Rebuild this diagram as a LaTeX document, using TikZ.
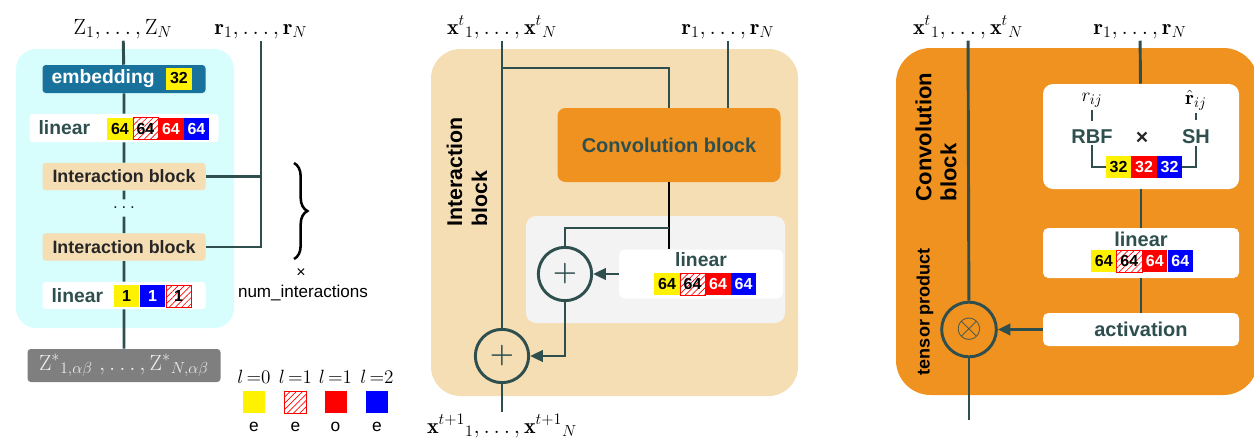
\documentclass[tikz,border=0pt]{standalone}
\usepackage{amsmath, amssymb}
\usepackage{fontspec}
\setsansfont{Liberation Sans}
\usepackage{tikz}
\usetikzlibrary{positioning, arrows.meta, patterns.meta, decorations.pathreplacing}
\definecolor{netslate}{HTML}{2F4F4F}
\definecolor{cyanbg}{HTML}{D8FDFD}
\definecolor{embblue}{HTML}{18729B}
\definecolor{ibwheat}{HTML}{F5DEB3}
\definecolor{convorange}{HTML}{F0921F}
\definecolor{greypanel}{HTML}{F3F3F3}
\definecolor{outgray}{HTML}{7F7F7F}

\begin{document}
\begin{tikzpicture}[x=0.75pt, y=-0.75pt,
  wire/.style={draw=netslate, line width=2.2pt},
  flow/.style={wire, -{Triangle[length=9.5pt, width=8.5pt]}},
  layerbox/.style={rectangle, rounded corners=2.5pt, inner sep=0pt},
  sflab/.style={font=\sffamily\bfseries\fontsize{14.5}{17}\selectfont, text=netslate, inner sep=1pt},
  mlab/.style={font=\fontsize{16.5}{18}\selectfont, inner sep=1.5pt, anchor=base},
  chip/.style={rectangle, inner sep=0pt, minimum width=19pt, minimum height=16.5pt,
    font=\sffamily\bfseries\fontsize{12}{12}\selectfont},
  chipY/.style={chip, fill=yellow, text=black},
  chipH/.style={chip, draw=red, line width=0.5pt, pattern color=red,
    pattern={Lines[angle=45, distance=3.3pt, line width=0.5pt]}, text=black},
  chipR/.style={chip, fill=red, text=white},
  chipB/.style={chip, fill=blue, text=white},
  addop/.style={circle, draw=netslate, line width=2.2pt, minimum size=40pt, inner sep=0pt,
    text=netslate, font=\fontsize{22}{22}\selectfont},
]
\useasboundingbox (0,0) rectangle (1254,439);

% panels
\fill[cyanbg, rounded corners=15pt] (16,49) rectangle (234,328);
\fill[ibwheat, rounded corners=22pt] (431,49) rectangle (798,396);
\fill[greypanel, rounded corners=7.5pt] (526,216) rectangle (785,323);
\fill[convorange, rounded corners=26pt] (896,48) rectangle (1258,395);

% ---- model
\node[mlab] (zin) at (123,34) {$\mathrm{Z}_1, \ldots, \mathrm{Z}_N$};
\node[mlab] (rin) at (261,34) {$\mathbf{r}_1, \ldots, \mathbf{r}_N$};

\node[layerbox, fill=embblue, minimum width=122.25pt, minimum height=21pt] (emb) at (124,79) {};
\node[sflab, text=white, anchor=west] (embtxt) at (50,79) {embedding};
\node[chipY] (emb32) at (179,78.5) {32};

\node[layerbox, fill=white, minimum width=141.75pt, minimum height=21pt] (lina) at (124,128) {};
\node[sflab, anchor=west] (linatxt) at (37,128) {linear};
\foreach \s/\t [count=\i from 0] in {chipY/64, chipH/64, chipR/64, chipB/64}
  \node[\s] (lina\i) at (120+25.5*\i,128.5) {\t};

\node[layerbox, fill=ibwheat, minimum width=122.25pt, minimum height=20.6pt,
  font=\sffamily\bfseries\fontsize{13.4}{15}\selectfont, text=black!85] (ib1) at (124,176.5) {Interaction block};
\node[font=\fontsize{14}{16}\selectfont, inner sep=5.5pt] (dots) at (124,208) {$\ldots$};
\node[layerbox, fill=ibwheat, minimum width=122.25pt, minimum height=20.6pt,
  font=\sffamily\bfseries\fontsize{13.4}{15}\selectfont, text=black!85] (ib2) at (124,247) {Interaction block};

\node[layerbox, fill=white, minimum width=122.25pt, minimum height=20.25pt] (linb) at (124,295.5) {};
\node[sflab, anchor=west] (linbtxt) at (50,296) {linear};
\foreach \s/\t [count=\i from 0] in {chipY/1, chipB/1, chipH/1}
  \node[\s] (linb\i) at (126.5+26*\i,296) {\t};

\node[layerbox, fill=outgray, minimum width=144.75pt, minimum height=24.75pt, text=black!8,
  font=\fontsize{16.5}{18}\selectfont] (zout) at (124,365.5)
  {$\mathrm{Z}^{*}{}_{1,\alpha\beta}\;, \ldots, \mathrm{Z}^{*}{}_{N,\alpha\beta}$};

\draw[wire] (zin) -- (emb) (emb) -- (lina) (lina) -- (ib1) (ib1) -- (dots)
  (dots) -- (ib2) (ib2) -- (linb) (linb) -- (zout);
\draw[wire] (rin) -- (rin |- ib2) -- (ib2);
\draw[wire] (ib1) -- (ib1 -| rin);

% repeat brace
\draw[line width=1.9pt, decorate, decoration={brace, amplitude=10pt}] (294,163) -- (294,259);
\node[font=\sffamily\fontsize{12}{14}\selectfont] (times) at (301,273) {×};
\node[font=\sffamily\fontsize{12.8}{14}\selectfont] (numint) at (303,293) {num\_interactions};

% legend
\foreach \x/\l/\s/\p [count=\i] in {254/0/chipY/e, 295.5/1/chipH/e, 335.5/1/chipR/o, 377/2/chipB/e}{
  \node[font=\fontsize{14.5}{16}\selectfont] (lval\i) at (\x,377) {$l\,{=}\l$};
  \node[\s, minimum width=16.5pt, minimum height=16.5pt] (lkey\i) at (\x,402) {};
  \node[font=\sffamily\fontsize{13}{15}\selectfont] (lpar\i) at (\x,427) {\p};
}

% ---- interaction block
\node[mlab] (xin) at (502,34) {$\mathbf{x}^{t}{}_{1}, \ldots, \mathbf{x}^{t}{}_{N}$};
\node[mlab] (rin2) at (728,34) {$\mathbf{r}_1, \ldots, \mathbf{r}_N$};
\node[rotate=90, align=left, font=\sffamily\bfseries\fontsize{16}{18.75}\selectfont] (iblab) at (467,172) {Interaction\\block};

\node[layerbox, fill=convorange, rounded corners=6pt, minimum width=167.25pt, minimum height=55.5pt,
  font=\sffamily\bfseries\fontsize{15}{17}\selectfont, text=netslate] (conv) at (669,145) {Convolution block};

\node[layerbox, fill=white, rounded corners=4pt, minimum width=123pt, minimum height=36.75pt] (lin3) at (701,274) {};
\node[sflab] (lin3txt) at (701,260) {linear};
\foreach \s [count=\i from 0] in {chipY, chipH, chipR, chipB}
  \node[\s] (lin3\i) at (667+25.5*\i,284) {64};

\node[addop] (add1) at (565,274) {$\boldsymbol{+}$};
\node[addop] (add2) at (502,356) {$\boldsymbol{+}$};
\node[mlab] (xout) at (502,433) {$\mathbf{x}^{t+1}{}_{1}, \ldots, \mathbf{x}^{t+1}{}_{N}$};

\coordinate (xsplit) at (502,68);
\coordinate (csplit) at (669,228);
\draw[wire] (xin) -- (add2);
\draw[wire] (xsplit) -| (conv);
\draw[wire] (rin2) -- (rin2 |- conv.north);
\draw[wire, draw=black] (conv) -- (conv |- lin3.north);
\draw[wire] (csplit) -| (add1);
\draw[flow] (lin3) -- (add1);
\draw[flow] (add1) |- (add2);
\draw[wire] (add2) -- (xout);

% ---- convolution block
\node[mlab] (xin3) at (968,34) {$\mathbf{x}^{t}{}_{1}, \ldots, \mathbf{x}^{t}{}_{N}$};
\node[mlab] (rin3) at (1140,34) {$\mathbf{r}_1, \ldots, \mathbf{r}_N$};
\node[rotate=90, align=left, font=\sffamily\bfseries\fontsize{16.5}{18.75}\selectfont] (convlab) at (936,137) {Convolution\\block};

\node[layerbox, fill=white, rounded corners=7.5pt, minimum width=147pt, minimum height=78.75pt] (shbox) at (1141,136.5) {};
\node[font=\fontsize{15}{16}\selectfont, inner sep=2pt] (rij) at (1092,100) {$r_{ij}$};
\node[font=\fontsize{15}{16}\selectfont, inner sep=2pt] (rhat) at (1196,100) {$\hat{\mathbf{r}}_{ij}$};
\node[font=\sffamily\bfseries\fontsize{15}{17}\selectfont, text=netslate, inner sep=1pt] (rbf) at (1092,137) {RBF};
\node[font=\sffamily\bfseries\fontsize{16}{17}\selectfont, text=black!85] (cross) at (1142,138) {×};
\node[font=\sffamily\bfseries\fontsize{15}{17}\selectfont, text=netslate, inner sep=1pt] (sh) at (1196,137) {SH};
\foreach \s/\t [count=\i from 0] in {chipY/32, chipR/32, chipB/32}
  \node[\s] (shc\i) at (1118.5+25.5*\i,167) {\t};
\draw[wire, line width=2pt, shorten >=6pt] (rij) -- (rbf);
\draw[wire, line width=2pt, shorten >=6pt] (rhat) -- (sh);
\draw[wire, line width=2pt] (rbf) |- (shc0);
\draw[wire, line width=2pt] (sh) |- (shc2);

\node[layerbox, fill=white, rounded corners=4pt, minimum width=147pt, minimum height=37.5pt] (linr) at (1141,253) {};
\node[sflab, font=\sffamily\bfseries\fontsize{15}{17}\selectfont] (linrtxt) at (1141,239) {linear};
\foreach \s [count=\i from 0] in {chipY, chipH, chipR, chipB}
  \node[\s] (linr\i) at (1103.75+25.5*\i,261) {64};

\node[layerbox, fill=white, rounded corners=4pt, minimum width=147pt, minimum height=24.75pt,
  font=\sffamily\bfseries\fontsize{15}{17}\selectfont, text=netslate] (act) at (1141,329.5) {activation};
\node[addop, minimum size=41pt, font=\fontsize{25}{25}\selectfont] (tp) at (969,329.5) {$\otimes$};
\node[rotate=90, font=\sffamily\bfseries\fontsize{13.5}{15}\selectfont] (tplab) at (925,311.5) {tensor product};

\coordinate (xout3) at (969,420);
\draw[wire] (xin3) -- (tp);
\draw[wire] (tp) -- (xout3);
\draw[wire] (rin3) -- (shbox);
\draw[wire] (shbox) -- (linr);
\draw[wire] (linr) -- (act);
\draw[flow] (act) -- (tp);
\end{tikzpicture}
\end{document}
